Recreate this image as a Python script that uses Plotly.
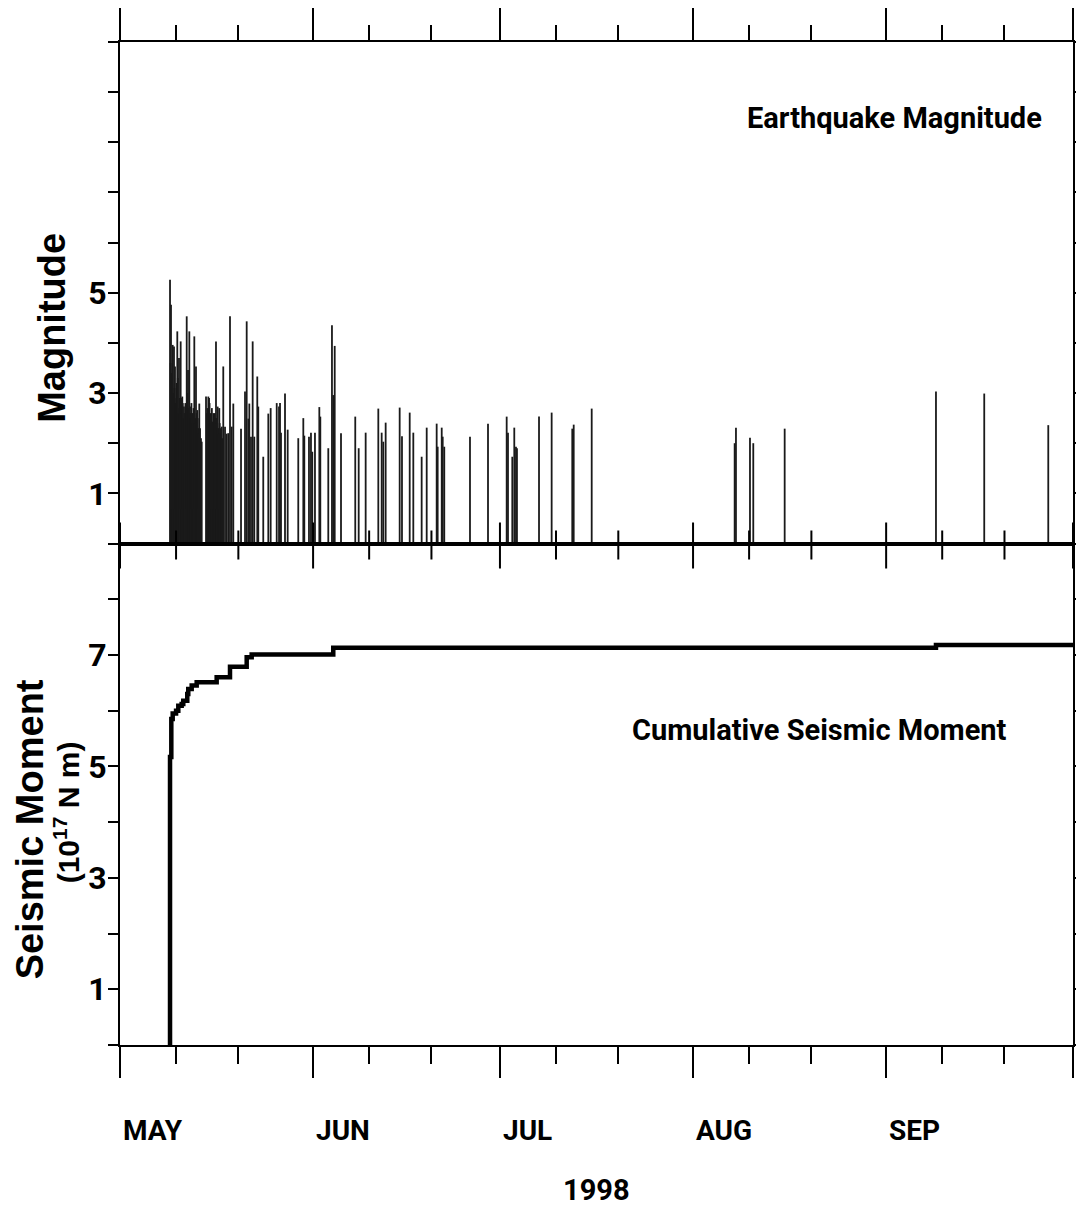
import pandas as pd
import plotly.graph_objects as go

# ---------------- data ----------------
# event times as decimal day-of-year 1998 (DOY 121.0 = 1 May 00:00)
event_doy = [
    129.03, 129.12, 129.19, 129.30, 129.38, 129.46, 129.55, 129.67, 129.75, 129.83,
    129.90, 130.05, 130.10, 130.20, 130.28, 130.35, 130.47, 130.53, 130.60, 130.74,
    130.82, 130.90, 131.00, 131.08, 131.15, 131.27, 131.38, 131.50, 131.60, 131.71,
    131.80, 131.92, 132.05, 132.13, 132.25, 132.33, 132.40, 132.47, 132.55, 132.67,
    132.73, 132.80, 132.93, 133.00, 133.10, 133.20, 133.30, 133.41, 133.48, 133.55,
    133.65, 133.73, 133.85, 134.00, 134.12, 134.81, 134.95, 135.05, 135.18, 135.30,
    135.38, 135.45, 135.52, 135.60, 135.75, 135.88, 136.00, 136.07, 136.14, 136.22,
    136.30, 136.41, 136.48, 136.55, 136.62, 136.68, 136.80, 136.87, 136.94, 137.00,
    137.10, 137.20, 137.33, 137.45, 137.58, 137.86, 138.13, 138.39, 138.66, 138.93,
    139.19, 140.43, 141.07, 141.34, 141.60, 141.76, 142.03, 142.30, 142.56, 143.04,
    143.20, 144.00, 144.81, 145.19, 146.16, 146.53, 146.69, 146.85, 147.49, 147.92,
    149.62, 150.43, 150.59, 151.34, 151.66, 151.87, 152.30, 153.00, 153.16, 154.44,
    155.03, 155.24, 155.47, 156.48, 158.77, 159.32, 160.44, 162.47, 163.01, 163.27,
    163.65, 165.90, 166.27, 167.51, 168.09, 169.43, 170.24, 171.84, 172.00, 172.65,
    172.81, 173.06, 177.19, 180.08, 183.08, 183.29, 183.98, 184.30, 184.57, 184.73,
    188.27, 190.30, 193.61, 193.84, 196.73, 219.68, 219.89, 222.14, 222.67, 227.71,
    252.00, 259.75, 270.03,
]
event_mag = [
    5.26, 3.60, 4.76, 3.40, 3.20, 3.96, 3.00, 3.93, 3.10, 3.53,
    2.80, 2.90, 3.20, 4.23, 3.30, 2.60, 3.70, 2.70, 2.90, 4.03,
    2.90, 2.60, 2.93, 2.80, 2.50, 2.73, 2.60, 2.80, 2.70, 4.53,
    3.00, 3.46, 2.70, 4.23, 2.60, 2.50, 2.73, 2.80, 2.40, 2.59,
    2.60, 2.70, 4.13, 2.40, 2.50, 3.53, 2.60, 2.66, 2.50, 2.30,
    2.20, 2.79, 2.30, 2.10, 2.03, 2.93, 2.60, 2.70, 2.93, 2.90,
    2.80, 2.53, 2.60, 2.40, 2.70, 2.43, 2.60, 2.40, 2.53, 2.60,
    2.50, 4.03, 2.50, 2.40, 2.30, 2.73, 2.30, 2.20, 2.70, 2.40,
    2.20, 2.30, 2.33, 2.10, 3.53, 2.33, 2.19, 2.20, 4.53, 2.33,
    2.79, 2.29, 3.03, 4.43, 2.49, 2.79, 2.13, 4.03, 2.13, 3.33,
    2.73, 1.73, 2.59, 2.70, 2.80, 2.73, 2.80, 2.21, 2.99, 2.27,
    2.10, 2.50, 2.15, 2.13, 2.21, 1.83, 2.21, 2.72, 2.53, 1.90,
    4.35, 2.96, 3.94, 2.20, 2.53, 1.90, 2.21, 2.69, 2.21, 2.03,
    2.41, 2.71, 2.14, 2.61, 2.21, 1.73, 2.31, 2.39, 1.93, 2.31,
    2.13, 1.93, 2.13, 2.39, 2.53, 2.21, 1.73, 2.31, 1.93, 1.90,
    2.53, 2.61, 2.29, 2.37, 2.69, 2.00, 2.31, 2.11, 2.00, 2.29,
    3.03, 2.99, 2.36,
]

# cumulative seismic moment (10^17 N m), step curve
moment_doy = [129.03, 129.03, 129.24, 129.46, 130.00, 130.36, 130.90, 131.16, 131.80,
              131.96, 132.51, 133.31, 136.52, 138.66, 141.34, 142.14, 155.24, 252.00, 274.00]
moment_cum = [0.00, 5.17, 5.85, 5.95, 6.00, 6.09, 6.12, 6.18, 6.30,
              6.39, 6.45, 6.51, 6.60, 6.79, 6.96, 7.01, 7.13, 7.18, 7.18]

month_starts = ["1998-05-01", "1998-06-01", "1998-07-01", "1998-08-01", "1998-09-01", "1998-10-01"]
month_labels = ["MAY", "JUN", "JUL", "AUG", "SEP"]
minor_days = ["1998-05-10", "1998-05-20", "1998-06-10", "1998-06-20", "1998-07-10", "1998-07-20",
              "1998-08-10", "1998-08-20", "1998-09-10", "1998-09-20"]
mag_labeled = [1, 3, 5]
mag_unlabeled = [0, 2, 4, 6, 7, 8, 9, 10]
mom_labeled = [1, 3, 5, 7]
mom_unlabeled = [0, 2, 4, 6, 8, 9]

# ---------------- helpers ----------------
base = pd.Timestamp("1997-12-31")
def to_time(doy):
    return [(base + pd.to_timedelta(d, unit="D")).strftime("%Y-%m-%d %H:%M:%S") for d in doy]

ev_t = to_time(event_doy)
stick_x, stick_y = [], []
for t, m in zip(ev_t, event_mag):
    stick_x += [t, t, None]
    stick_y += [0, m, None]

NARROW = "Roboto, Liberation Sans, sans-serif"
WIDE = "Liberation Sans, Arial, sans-serif"
xr = [month_starts[0], month_starts[-1]]

fig = go.Figure()
fig.add_trace(go.Scatter(x=stick_x, y=stick_y, mode="lines",
                         line=dict(color="#1a1a1a", width=1.8),
                         xaxis="x", yaxis="y", hoverinfo="skip", showlegend=False))
fig.add_trace(go.Scatter(x=to_time(moment_doy), y=moment_cum, mode="lines",
                         line=dict(color="black", width=4.5, shape="hv"),
                         xaxis="x2", yaxis="y2", hoverinfo="skip", showlegend=False))

common_x = dict(type="date", range=xr, showgrid=False, zeroline=False, showline=True,
                linecolor="black", linewidth=2, tickmode="array", tickvals=month_starts,
                showticklabels=False, ticks="outside", tickcolor="black", tickwidth=2,
                mirror=True, automargin=False)

def xminor(length):
    return dict(tickmode="array", tickvals=minor_days, ticks="outside",
                ticklen=length, tickwidth=2, tickcolor="black")

def yminor(vals):
    return dict(tickmode="array", tickvals=vals, ticks="outside",
                ticklen=10, tickwidth=2, tickcolor="black")

common_y = dict(showgrid=False, zeroline=False, showline=True, linecolor="black", linewidth=2,
                ticks="outside", ticklen=10, tickwidth=2, tickcolor="black", mirror="ticks",
                tickmode="array", automargin=False, ticklabelstandoff=-5,
                tickfont=dict(family=NARROW, size=32, color="black", weight="bold"))

fig.update_layout(
    width=1076, height=1213,
    margin=dict(l=120, r=3, t=42, b=168),
    paper_bgcolor="white", plot_bgcolor="white",
    showlegend=False,
    xaxis=dict(**common_x, anchor="y", side="top", ticklen=32, minor=xminor(15)),
    yaxis=dict(**common_y, domain=[0.5, 1.0], range=[0, 10], tickvals=mag_labeled,
               ticktext=[str(v) for v in mag_labeled], minor=yminor(mag_unlabeled)),
    xaxis2=dict(**common_x, anchor="y2", side="bottom", ticklen=31, minor=xminor(17)),
    yaxis2=dict(**common_y, domain=[0.0, 0.5], range=[0, 9], tickvals=mom_labeled,
                ticktext=[str(v) for v in mom_labeled], minor=yminor(mom_unlabeled)),
)

# crossing ticks on the shared middle axis (up into the top panel, down into the bottom one)
PH = 1003.0
shapes = []
for d in month_starts:
    shapes.append(dict(type="line", xref="x", yref="paper", x0=d, x1=d,
                       y0=0.5 - 25 / PH, y1=0.5 + 21 / PH, line=dict(color="black", width=2)))
for d in minor_days:
    shapes.append(dict(type="line", xref="x", yref="paper", x0=d, x1=d,
                       y0=0.5 - 16 / PH, y1=0.5 + 13 / PH, line=dict(color="black", width=2)))
fig.update_layout(shapes=shapes)

ann = []
for m, lab in zip(month_starts[:-1], month_labels):
    ann.append(dict(x=m, xref="x2", y=-0.0857, yref="paper", text=lab, showarrow=False,
                    xanchor="left", yanchor="middle", xshift=1,
                    font=dict(family=NARROW, size=28, color="black", weight="bold")))
ann.append(dict(x=0.5, xref="paper", y=-0.1446, yref="paper", text="1998", showarrow=False,
                xanchor="center", yanchor="middle",
                font=dict(family=NARROW, size=29, color="black", weight="bold")))
ann.append(dict(x=0.813, xref="paper", y=0.924, yref="paper", text="Earthquake Magnitude",
                showarrow=False, xanchor="center", yanchor="middle",
                font=dict(family=NARROW, size=29, color="black", weight="bold")))
ann.append(dict(x=0.7345, xref="paper", y=0.314, yref="paper", text="Cumulative Seismic Moment",
                showarrow=False, xanchor="center", yanchor="middle",
                font=dict(family=NARROW, size=29, color="black", weight="bold")))
ann.append(dict(x=(52 - 120) / 953.0, xref="paper", y=0.715, yref="paper", text="Magnitude",
                showarrow=False, textangle=-90, xanchor="center", yanchor="middle",
                font=dict(family=WIDE, size=38, color="black", weight="bold")))
ann.append(dict(x=(30 - 120) / 953.0, xref="paper", y=0.215, yref="paper", text="Seismic Moment",
                showarrow=False, textangle=-90, xanchor="center", yanchor="middle",
                font=dict(family=WIDE, size=38, color="black", weight="bold")))
ann.append(dict(x=(67 - 120) / 953.0, xref="paper", y=0.232, yref="paper",
                text="(10<sup>17</sup> N m)",
                showarrow=False, textangle=-90, xanchor="center", yanchor="middle",
                font=dict(family=WIDE, size=30, color="black", weight="bold")))
fig.update_layout(annotations=ann)

# remove the default 8px page margin so the figure fills the window exactly
fig.write_html("out.html", config={"displayModeBar": False},
               post_script="document.body.style.margin='0';")
